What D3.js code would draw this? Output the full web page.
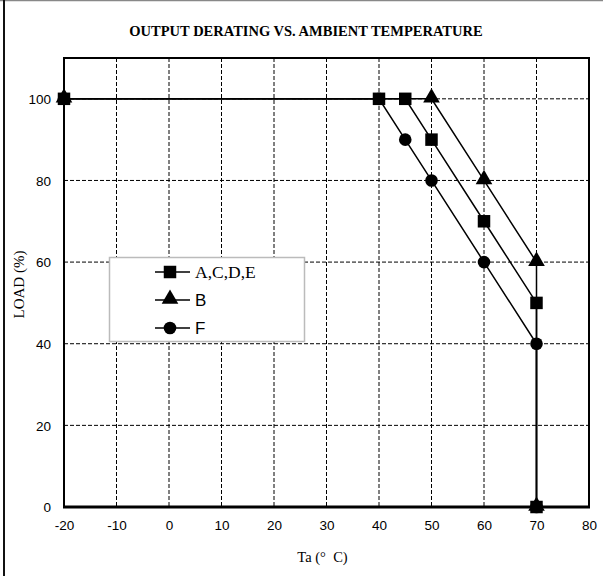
<!DOCTYPE html>
<html><head><meta charset="utf-8">
<script src="https://cdn.jsdelivr.net/npm/d3@7"></script>
<style>body{margin:0;background:#fff}</style>
</head><body>
<script>
const title = "OUTPUT DERATING VS. AMBIENT TEMPERATURE";
const xLabel = "Ta (°  C)";
const yLabel = "LOAD (%)";
const xTicks = [-20,-10,0,10,20,30,40,50,60,70,80];
const yTicks = [0,20,40,60,80,100];
const seriesNames = ["B","F","A,C,D,E"];
const seriesB = [[-20,100],[50,100],[60,80],[70,60],[70,0]];
const seriesF = [[-20,100],[40,100],[45,90],[50,80],[60,60],[70,40],[70,0]];
const seriesA = [[-20,100],[40,100],[45,100],[50,90],[60,70],[70,50],[70,0]];
const symbols = [d3.symbolTriangle, d3.symbolCircle, d3.symbolSquare];

const W=603,H=576;
const svg=d3.select("body").append("svg").attr("width",W).attr("height",H);
svg.append("rect").attr("width",W).attr("height",H).attr("fill","#fff");
// outer border
svg.append("line").attr("x1",0).attr("x2",W).attr("y1",0.5).attr("y2",0.5).attr("stroke","#888").attr("stroke-width",1.5);
svg.append("line").attr("x1",4).attr("x2",4).attr("y1",0).attr("y2",H).attr("stroke","#111").attr("stroke-width",2);

const L=64,R=589,T=58,B=507;
const x=d3.scaleLinear().domain([-20,80]).range([L,R]);
const y=d3.scaleLinear().domain([0,110]).range([B,T]);

// grid
const g=svg.append("g");
g.selectAll(".vg").data(xTicks.filter(v=>v>-20&&v<80)).join("line")
 .attr("x1",d=>x(d)).attr("x2",d=>x(d)).attr("y1",T).attr("y2",B)
 .attr("stroke","#000").attr("stroke-width",1).attr("stroke-dasharray","4,2");
g.selectAll(".hg").data(yTicks.filter(v=>v>0)).join("line")
 .attr("x1",L).attr("x2",R).attr("y1",d=>y(d)).attr("y2",d=>y(d))
 .attr("stroke","#000").attr("stroke-width",1).attr("stroke-dasharray","4,2");

// frame
svg.append("rect").attr("x",L).attr("y",T).attr("width",R-L).attr("height",B-T)
 .attr("fill","none").attr("stroke","#000").attr("stroke-width",2);
svg.append("line").attr("x1",L-1).attr("x2",R+1).attr("y1",B).attr("y2",B).attr("stroke","#000").attr("stroke-width",3);

// axes
const xa=svg.append("g").attr("transform",`translate(0,${B})`)
 .call(d3.axisBottom(x).tickValues(xTicks).tickSize(0).tickPadding(10).tickFormat(d=>d));
const ya=svg.append("g").attr("transform",`translate(${L},0)`)
 .call(d3.axisLeft(y).tickValues(yTicks).tickSize(0).tickPadding(13).tickFormat(d=>d));
[xa,ya].forEach(a=>{a.select(".domain").remove();
 a.selectAll("text").attr("font-family","Liberation Sans, Arial, sans-serif").attr("font-size",13.5).attr("fill","#000");});
xa.selectAll("text").attr("dy","0.95em");
ya.selectAll("text").attr("dy","0.35em");

// series
const line=d3.line().x(d=>x(d[0])).y(d=>y(d[1]));
const all=[seriesB,seriesF,seriesA];
all.forEach((s,i)=>{
 svg.append("path").datum(s).attr("d",line).attr("fill","none").attr("stroke","#000").attr("stroke-width",1.5);
});
const sizes=[120,125,156];
all.forEach((s,i)=>{
 svg.selectAll(null).data(s).join("path")
  .attr("transform",d=>`translate(${x(d[0])},${y(d[1])+(i===0?-1:0)})`)
  .attr("d",d3.symbol().type(symbols[i]).size(sizes[i])).attr("fill","#000");
});

// legend
const lg=svg.append("g");
lg.append("rect").attr("x",109.5).attr("y",257.5).attr("width",195).attr("height",84)
 .attr("fill","#fff").attr("stroke","#bbb").attr("stroke-width",1.5);
const legOrder=[2,0,1];
const legY=[272,300,328];
legOrder.forEach((si,k)=>{
 const yy=legY[k];
 lg.append("line").attr("x1",155).attr("x2",190).attr("y1",yy).attr("y2",yy).attr("stroke","#000").attr("stroke-width",1.5);
 lg.append("path").attr("transform",`translate(170,${yy+(si===0?-1:0)})`).attr("d",d3.symbol().type(symbols[si]).size(sizes[si])).attr("fill","#000");
 lg.append("text").attr("x",195).attr("y",yy).attr("dy","0.36em")
  .attr("font-family",si===2?"Liberation Serif, Times New Roman, serif":"Liberation Sans, Arial, sans-serif")
  .attr("font-size",si===2?17.5:17).text(seriesNames[si]);
});

// titles
svg.append("text").attr("x",306).attr("y",36).attr("text-anchor","middle")
 .attr("font-family","Liberation Serif, Times New Roman, serif").attr("font-weight","bold").attr("font-size",14.5).text(title);
svg.append("text").attr("x",(L+R)/2-4).attr("y",562).attr("text-anchor","middle")
 .attr("font-family","Liberation Serif, Times New Roman, serif").attr("font-size",14.5).attr("xml:space","preserve").style("white-space","pre").text(xLabel);
svg.append("text").attr("transform",`translate(24,${(T+B)/2+2}) rotate(-90)`).attr("text-anchor","middle")
 .attr("font-family","Liberation Serif, Times New Roman, serif").attr("font-size",15).text(yLabel);
</script>
</body></html>
